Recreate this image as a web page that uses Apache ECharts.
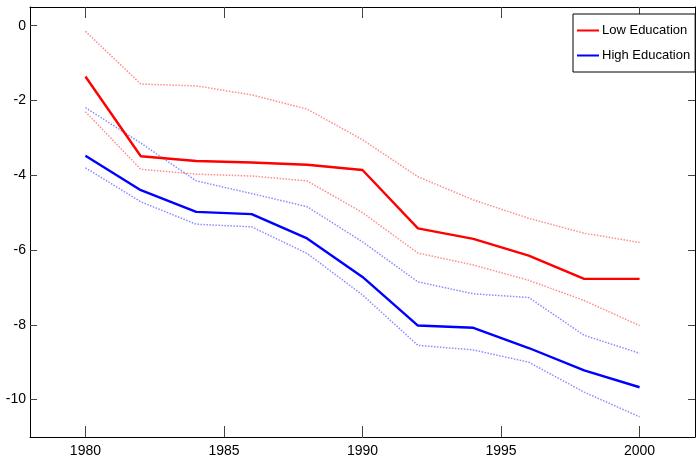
<!DOCTYPE html>
<html>
<head>
<meta charset="utf-8">
<script src="https://cdn.jsdelivr.net/npm/echarts@6/dist/echarts.min.js"></script>
<style>
html,body{margin:0;padding:0;background:#fff;}
#chart{width:697px;height:460px;}
</style>
</head>
<body>
<div id="chart"></div>
<script>
var years = [1980, 1982, 1984, 1986, 1988, 1990, 1992, 1994, 1996, 1998, 2000];
var lowEdu       = [-1.36, -3.49, -3.62, -3.66, -3.72, -3.86, -5.42, -5.70, -6.15, -6.77, -6.77];
var lowEduUpper  = [-0.15, -1.56, -1.61, -1.85, -2.23, -3.05, -4.04, -4.66, -5.15, -5.55, -5.80];
var lowEduLower  = [-2.30, -3.84, -3.97, -4.02, -4.15, -5.00, -6.08, -6.40, -6.81, -7.35, -8.02];
var highEdu      = [-3.48, -4.40, -4.98, -5.04, -5.69, -6.72, -8.02, -8.08, -8.62, -9.22, -9.67];
var highEduUpper = [-2.19, -3.14, -4.15, -4.49, -4.84, -5.78, -6.85, -7.17, -7.27, -8.28, -8.76];
var highEduLower = [-3.80, -4.71, -5.31, -5.38, -6.09, -7.20, -8.55, -8.67, -9.00, -9.80, -10.46];
var xTicks = [1980, 1985, 1990, 1995, 2000];
var yTicks = [-10, -8, -6, -4, -2, 0];

function pairs(vals) { return years.map(function (y, i) { return [y, vals[i]]; }); }

var FONT = "'Liberation Sans', Arial, sans-serif";
var chart = echarts.init(document.getElementById('chart'), null, {renderer: 'canvas'});

function xAx(pos, showLabel) {
  return {
    type: 'value', position: pos, min: 1978, max: 2002,
    axisLine: {show: true, onZero: false, lineStyle: {color: '#000', width: 1}},
    axisTick: {show: true, inside: true, length: 11, customValues: xTicks, lineStyle: {color: '#444'}},
    axisLabel: {show: showLabel, customValues: xTicks, color: '#000', fontSize: 14, fontFamily: FONT, margin: 7,
      formatter: function (v) { return String(v); }},
    splitLine: {show: false}
  };
}
function yAx(pos, showLabel) {
  return {
    type: 'value', position: pos, min: -11, max: 0.5,
    axisLine: {show: true, onZero: false, lineStyle: {color: '#000', width: 1}},
    axisTick: {show: true, inside: true, length: 7, customValues: yTicks, lineStyle: {color: '#444'}},
    axisLabel: {show: showLabel, customValues: yTicks, color: '#000', fontSize: 14, fontFamily: FONT, margin: 4,
      formatter: function (v) { return String(v); }},
    splitLine: {show: false}
  };
}
function line(name, vals, color, width, dotted) {
  return {
    name: name, type: 'line', data: pairs(vals), xAxisIndex: 0, yAxisIndex: 0,
    showSymbol: false, symbol: 'none', silent: true, animation: false,
    z: dotted ? 2 : 3,
    lineStyle: {color: color, width: width, type: dotted ? [1.5, 1.5] : 'solid'},
    itemStyle: {color: color}
  };
}

chart.setOption({
  animation: false,
  backgroundColor: '#fff',
  grid: {left: 30, top: 7, right: 2, bottom: 23, containLabel: false},
  xAxis: [xAx('bottom', true), xAx('top', false)],
  yAxis: [yAx('left', true), yAx('right', false)],
  legend: {
    data: ['Low Education', 'High Education'],
    orient: 'vertical', left: 573, top: 14,
    backgroundColor: '#fff', borderColor: '#000', borderWidth: 1,
    padding: [10, 5, 10, 4], itemGap: 12, itemWidth: 22, itemHeight: 2,
    icon: 'rect',
    textStyle: {color: '#000', fontSize: 13, fontFamily: FONT, padding: [0, 0, 0, -2]}
  },
  series: [
    line('Low Education upper', lowEduUpper, '#ff8c8c', 1.5, true),
    line('Low Education lower', lowEduLower, '#ff8c8c', 1.5, true),
    line('High Education upper', highEduUpper, '#8c8cff', 1.5, true),
    line('High Education lower', highEduLower, '#8c8cff', 1.5, true),
    line('Low Education', lowEdu, '#ff0000', 2.4, false),
    line('High Education', highEdu, '#0000ff', 2.4, false)
  ]
});
</script>
</body>
</html>
